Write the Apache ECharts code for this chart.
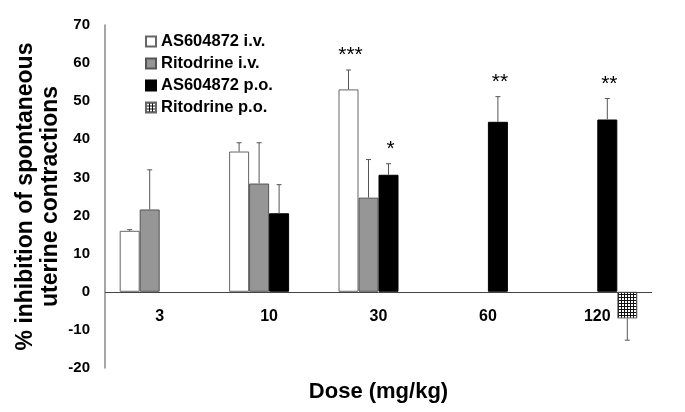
<!DOCTYPE html>
<html>
<head>
<meta charset="utf-8">
<script src="https://cdn.jsdelivr.net/npm/echarts@6/dist/echarts.min.js"></script>
<style>
html,body{margin:0;padding:0;background:#fff;}
#chart{width:685px;height:412px;}
</style>
</head>
<body>
<div id="chart"></div>
<script>
// ---- data ----
var categories = ['3', '10', '30', '60', '120'];
var seriesNames = ['AS604872 i.v.', 'Ritodrine i.v.', 'AS604872 p.o.', 'Ritodrine p.o.'];
var asIv      = [16.0, 36.8, 53.1, null, null];
var asIvErr   = [0.3, 2.3, 5.1, null, null];
var ritIv     = [21.6, 28.4, 24.7, null, null];
var ritIvErr  = [10.4, 10.7, 10.0, null, null];
var asPo      = [null, 20.6, 30.7, 44.6, 45.2];
var asPoErr   = [null, 7.5, 2.9, 6.6, 5.5];
var ritPo     = [null, null, null, null, -7.0];
var ritPoErr  = [null, null, null, null, 5.7];
var asIvSig   = ['', '', '***', '', ''];
var ritIvSig  = ['', '', '', '', ''];
var asPoSig   = ['', '', '*', '**', '**'];
var ritPoSig  = ['', '', '', '', ''];
var yTicks = { min: -20, max: 70, interval: 10 };
var baseline = 0;

// ---- styles ----
var FONT = '"Liberation Sans", Arial, sans-serif';
var BAR_W = 20;

function makeHatch() {
  var c = document.createElement('canvas');
  c.width = 3; c.height = 3;
  var ctx = c.getContext('2d');
  ctx.fillStyle = '#ffffff';
  ctx.fillRect(0, 0, 3, 3);
  ctx.fillStyle = '#111111';
  ctx.fillRect(0, 0, 3, 1);
  ctx.fillRect(0, 0, 1, 3);
  return c;
}
var hatch = makeHatch();

var barStyles = [
  { color: '#ffffff', borderColor: '#666666', borderWidth: 1 },
  { color: '#969696', borderColor: '#555555', borderWidth: 1 },
  { color: '#000000', borderColor: '#000000', borderWidth: 1 },
  { color: { image: hatch, repeat: 'repeat' }, borderColor: '#666666', borderWidth: 1 }
];

var values = [asIv, ritIv, asPo, ritPo];
var errs = [asIvErr, ritIvErr, asPoErr, ritPoErr];
var sigs = [asIvSig, ritIvSig, asPoSig, ritPoSig];

var series = [];
values.forEach(function (vals, k) {
  var s = {
    name: seriesNames[k],
    type: 'bar',
    data: vals.map(function (v) { return v == null ? '-' : v; }),
    barWidth: BAR_W,
    barGap: '0%',
    itemStyle: barStyles[k],
    emphasis: { disabled: true },
    animation: false
  };
  if (k === 0) {
    s.markLine = {
      silent: true, symbol: ['none', 'none'], animation: false,
      label: { show: false },
      lineStyle: { color: '#444444', width: 1, type: 'solid' },
      data: [{ yAxis: baseline }]
    };
  }
  series.push(s);
});

values.forEach(function (vals, k) {
  var data = [];
  vals.forEach(function (v, i) {
    if (v != null && errs[k][i] != null) data.push([i, v, errs[k][i], sigs[k][i]]);
  });
  series.push({
    type: 'custom',
    z: 5,
    silent: true,
    animation: false,
    data: data,
    renderItem: function (params, api) {
      var i = api.value(0), v = api.value(1), e = api.value(2);
      var sig = data[params.dataIndex][3];
      var sign = v >= 0 ? 1 : -1;
      var p0 = api.coord([i, v]);
      var p1 = api.coord([i, v + sign * e]);
      var x = p0[0] + (k - 1.5) * BAR_W;
      var children = [
        { type: 'line', shape: { x1: x, y1: p0[1], x2: x, y2: p1[1] },
          style: { stroke: '#555555', lineWidth: 1 } },
        { type: 'line', shape: { x1: x - 2.5, y1: p1[1], x2: x + 2.5, y2: p1[1] },
          style: { stroke: '#555555', lineWidth: 1 } }
      ];
      if (sig) {
        children.push({ type: 'text', style: {
          text: sig, x: x + 2, y: p1[1] - 4, align: 'center', verticalAlign: 'bottom',
          fill: '#000', font: '21px ' + FONT } });
      }
      return { type: 'group', children: children };
    }
  });
});

var chart = echarts.init(document.getElementById('chart'), null, { renderer: 'canvas' });
chart.setOption({
  backgroundColor: '#ffffff',
  animation: false,
  textStyle: { fontFamily: FONT },
  grid: { left: 105, right: 33, top: 25, bottom: 44, containLabel: false, outerBoundsMode: 'none' },
  legend: {
    orient: 'vertical',
    left: 140, top: 28,
    itemWidth: 10, itemHeight: 10,
    itemGap: 5,
    icon: 'rect',
    data: seriesNames,
    textStyle: { fontSize: 16.5, fontWeight: 'bold', color: '#000', fontFamily: FONT, lineHeight: 15 },
    selectedMode: false
  },
  xAxis: {
    type: 'category',
    data: categories,
    axisLine: { show: false, onZero: false },
    axisTick: { show: false },
    axisLabel: { fontSize: 16, fontWeight: 'bold', color: '#000', margin: -59, fontFamily: FONT },
    name: 'Dose (mg/kg)',
    nameLocation: 'middle',
    nameGap: 13,
    nameMoveOverlap: false,
    nameTextStyle: { fontSize: 22, fontWeight: 'bold', color: '#000', fontFamily: FONT },
    splitLine: { show: false }
  },
  yAxis: {
    type: 'value',
    min: yTicks.min, max: yTicks.max, interval: yTicks.interval,
    axisLine: { show: true, lineStyle: { color: '#888888', width: 1.5 } },
    axisTick: { show: false },
    splitLine: { show: false },
    axisLabel: { fontSize: 15, fontWeight: 'bold', color: '#000', margin: 15, fontFamily: FONT },
    name: '% inhibition of spontaneous\nuterine contractions',
    nameLocation: 'middle',
    nameGap: 42,
    nameMoveOverlap: false,
    nameTextStyle: { fontSize: 23, fontWeight: 'bold', color: '#000', fontFamily: FONT, lineHeight: 25, align: 'center' }
  },
  series: series
});
</script>
</body>
</html>
